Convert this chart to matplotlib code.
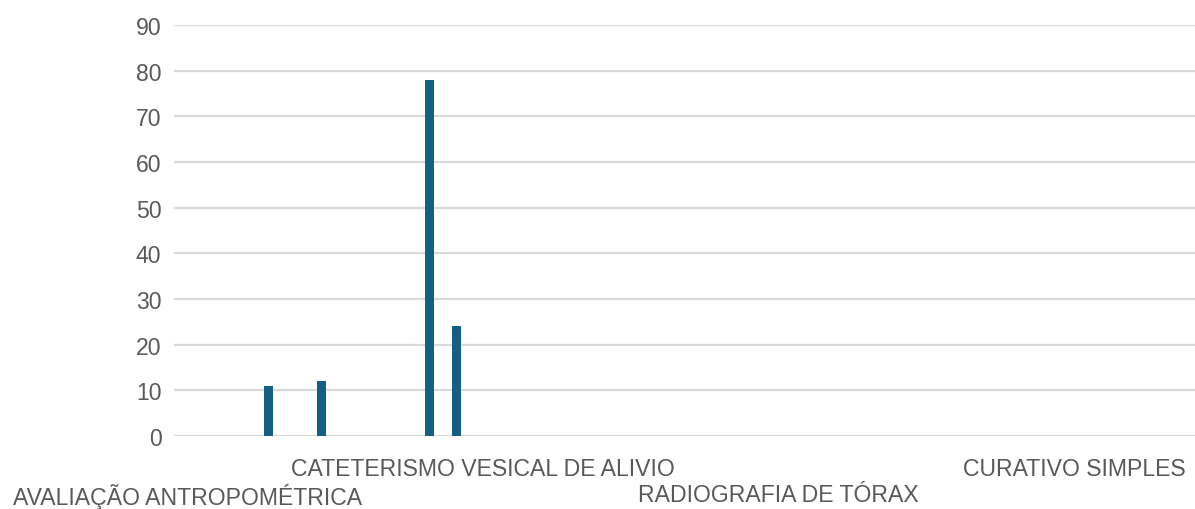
import matplotlib
matplotlib.use("Agg")
import numpy as np
from matplotlib import pyplot as plt

# 38 categories on the x axis; only every 11th name is printed in the chart
n_categories = 38
label_names = {
    0: "AVALIAÇÃO ANTROPOMÉTRICA",
    11: "CATETERISMO VESICAL DE ALIVIO",
    22: "RADIOGRAFIA DE TÓRAX",
    33: "CURATIVO SIMPLES",
}
categories = [label_names.get(i, "") for i in range(n_categories)]

# non-zero values (category index -> count)
bar_index = [3, 5, 9, 10]
bar_values = [11, 12, 78, 24]

values = np.zeros(n_categories)
values[bar_index] = bar_values

y_ticks = list(range(0, 91, 10))

plt.rcParams['font.family'] = ['Liberation Sans', 'DejaVu Sans']
text_color = '#595959'
fsize = 16.6

fig = plt.figure(figsize=(11.95, 5.10), dpi=100)
ax = fig.add_axes([174 / 1195, 1 - 437 / 510, (1195 - 174) / 1195, (437 - 26) / 510])

x = np.arange(n_categories)
ax.bar(x, values, width=0.335, color='#175f82', zorder=3)

ax.set_xlim(-0.5, n_categories - 0.5)
ax.set_ylim(0, 90)
ax.set_yticks(y_ticks)
ax.yaxis.grid(True, color='#d9d9d9', linewidth=1.6, zorder=0)

# staggered labels: upper row on major ticks, lower row on minor ticks
shown = list(range(0, n_categories, 11))
upper = shown[1::2]
lower = shown[0::2]
ax.set_xticks(upper)
ax.set_xticklabels([categories[i] for i in upper], fontsize=fsize, color=text_color)
ax.set_xticks(lower, minor=True)
ax.set_xticklabels([categories[i] for i in lower], minor=True, fontsize=fsize, color=text_color)

ax.tick_params(axis='y', length=0, pad=9, labelsize=fsize, labelcolor=text_color)
ax.tick_params(axis='x', which='major', length=0, pad=15)
ax.tick_params(axis='x', which='minor', length=0, pad=34)

for s in ax.spines.values():
    s.set_visible(False)

fig.savefig("out.png", dpi=100)
